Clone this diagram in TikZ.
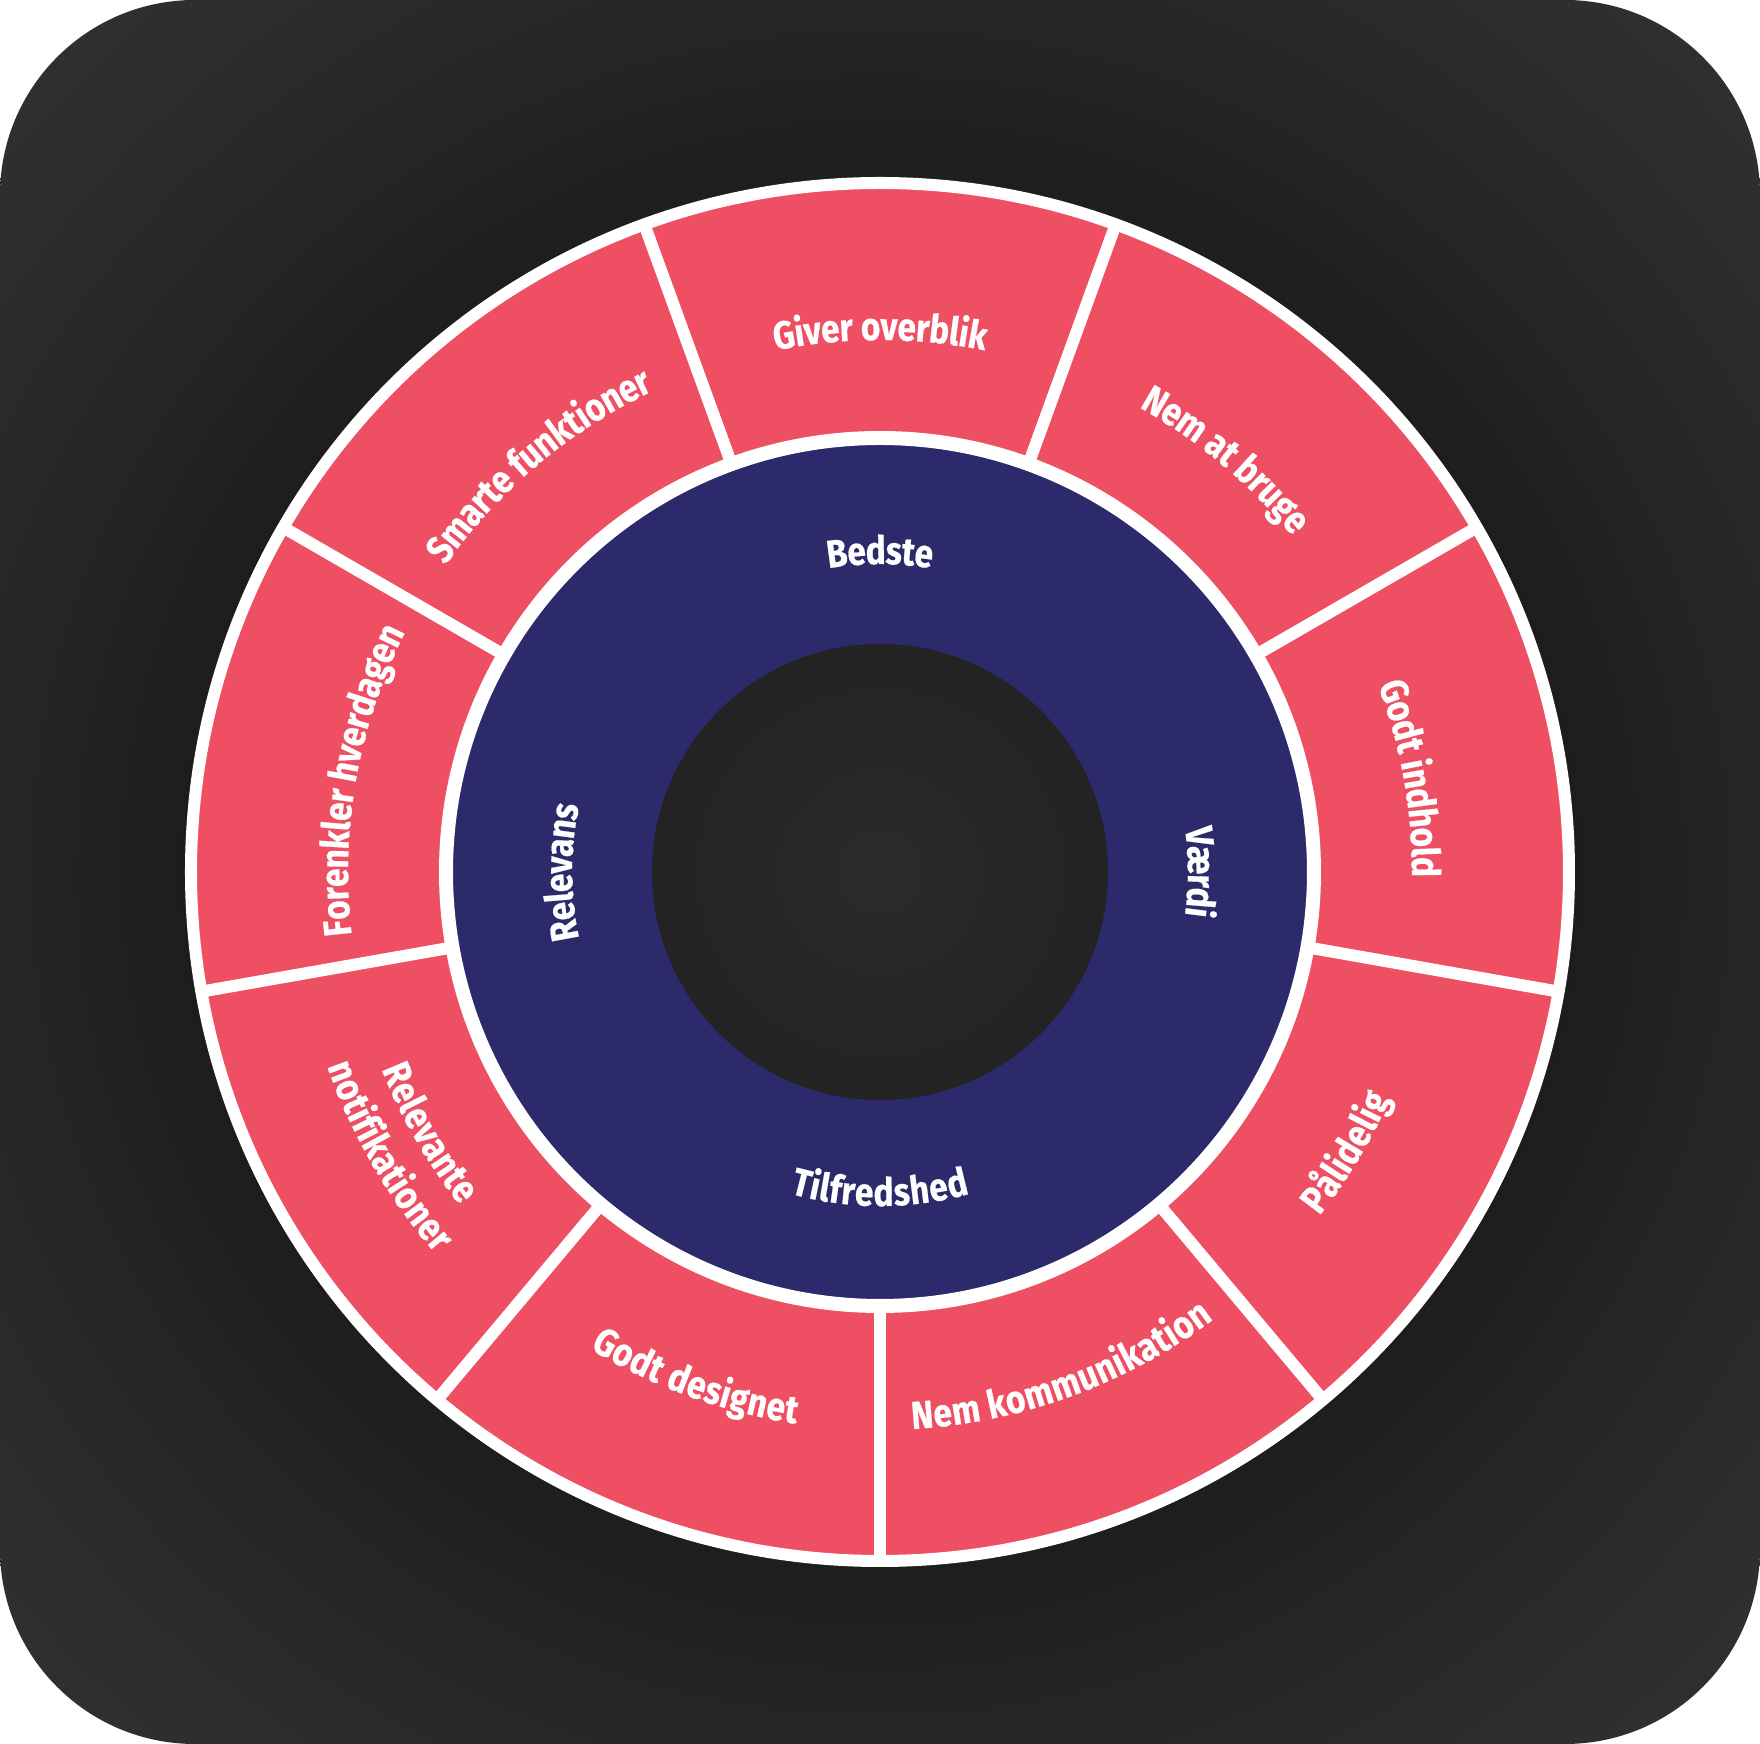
\documentclass[tikz,border=0pt]{standalone}
\usepackage{fontspec}
\newfontfamily\segfont{Fira Sans}[FakeStretch=0.86,FakeBold=0.5]
\newcommand\segstyle{\segfont\bfseries\fontsize{11.1}{13}\selectfont}
\usetikzlibrary{decorations.text}
\definecolor{segred}{HTML}{EE4F63}
\definecolor{ringblue}{HTML}{2C2A6B}
\definecolor{bgdark}{HTML}{1C1C1C}
\definecolor{bgmid}{HTML}{262626}
\definecolor{bglight}{HTML}{333333}
\definecolor{holein}{HTML}{2B2B2B}
\definecolor{holeout}{HTML}{232323}
\pgfdeclareradialshading{bgglow}{\pgfpoint{0bp}{0bp}}{color(0bp)=(bgdark); color(19bp)=(bgdark); color(25bp)=(bgmid); color(36bp)=(bglight); color(50bp)=(bglight)}
\tikzset{
  ringtext/.style={decorate, decoration={text along path, text align=center, text color=white, raise=-1.3mm, text={|\segstyle|#1}}},
}
\begin{document}
\begin{tikzpicture}
\useasboundingbox (-8.8,-8.72) rectangle (8.8,8.72);
\fill[white] (-8.8,-8.72) rectangle (8.8,8.72);
\shade[shading=bgglow, rounded corners=1.95cm] (-8.8,-8.72) rectangle (8.8,8.72);
%
\fill[segred, draw=white, line width=1.2mm] (0,0) circle (6.89);
\foreach \a in {70,30,...,-250} \draw[white, line width=1.2mm] (\a:4.34) -- (\a:6.89);
\fill[ringblue, draw=white, line width=1.4mm] (0,0) circle (4.34);
\shade[inner color=holein, outer color=holeout] (0,0) circle (2.28);
%
\path[ringtext=Giver overblik] (115:5.45) arc[start angle=115, end angle=65, radius=5.45];
\path[ringtext=Nem at bruge] (75:5.45) arc[start angle=75, end angle=25, radius=5.45];
\path[ringtext=Godt indhold] (35:5.45) arc[start angle=35, end angle=-15, radius=5.45];
\path[ringtext=Smarte funktioner] (155:5.45) arc[start angle=155, end angle=105, radius=5.45];
\path[ringtext=Forenkler hverdagen] (195:5.45) arc[start angle=195, end angle=145, radius=5.45];
\path[ringtext=Pålidelig] (-56:5.45) arc[start angle=-56, end angle=-6, radius=5.45];
\path[ringtext=Nem kommunikation] (-95:5.45) arc[start angle=-95, end angle=-45, radius=5.45];
\path[ringtext=Godt designet] (-135:5.45) arc[start angle=-135, end angle=-85, radius=5.45];
\path[ringtext=Relevante] (-175:5.23) arc[start angle=-175, end angle=-125, radius=5.23];
\path[ringtext=notifikationer] (-175:5.73) arc[start angle=-175, end angle=-125, radius=5.73];
%
\path[ringtext=Bedste] (130:3.21) arc[start angle=130, end angle=50, radius=3.21];
\path[ringtext=Værdi] (40:3.21) arc[start angle=40, end angle=-40, radius=3.21];
\path[ringtext=Relevans] (220:3.21) arc[start angle=220, end angle=140, radius=3.21];
\path[ringtext=Tilfredshed] (-130:3.21) arc[start angle=-130, end angle=-50, radius=3.21];
\end{tikzpicture}
\end{document}
